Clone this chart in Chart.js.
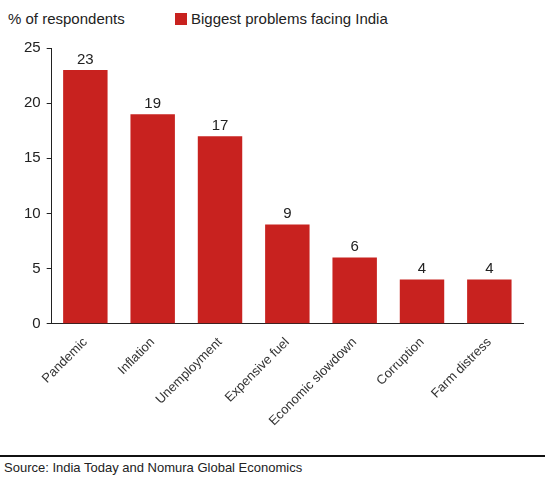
<!DOCTYPE html>
<html>
<head>
<meta charset="utf-8">
<script src="https://cdn.jsdelivr.net/npm/chart.js@4"></script>
<style>
  body { margin: 0; background: #fff; font-family: "Liberation Sans", Arial, sans-serif; }
  #wrap { position: relative; width: 545px; height: 479px; }
  #yTitle { position: absolute; left: 8px; top: 10px; font-size: 15px; color: #222; }
  #legend { position: absolute; left: 175px; top: 10px; font-size: 15px; color: #222; }
  #legend span { display: inline-block; width: 12px; height: 12px; background: #C8221F; margin-right: 4px; vertical-align: -1px; }
  #chartBox { position: absolute; left: 0; top: 30px; width: 545px; height: 402px; }
  #rule { position: absolute; left: 0; top: 455px; width: 545px; height: 2px; background: #111; }
  #source { position: absolute; left: 4px; top: 460px; font-size: 13px; color: #222; }
</style>
</head>
<body>
<div id="wrap">
  <div id="yTitle">% of respondents</div>
  <div id="legend"><span></span>Biggest problems facing India</div>
  <div id="chartBox"><canvas id="chart"></canvas></div>
  <div id="rule"></div>
  <div id="source">Source: India Today and Nomura Global Economics</div>
</div>
<script>
// Chart data
const categories = ["Pandemic", "Inflation", "Unemployment", "Expensive fuel", "Economic slowdown", "Corruption", "Farm distress"];
const shares = [23, 19, 17, 9, 6, 4, 4];
const yTicks = [0, 5, 10, 15, 20, 25];

// Value labels above bars
const barLabels = {
    id: "barLabels",
    afterDatasetsDraw(chart) {
        const ctx = chart.ctx;
        ctx.save();
        ctx.font = "15px 'Liberation Sans', Arial, sans-serif";
        ctx.fillStyle = "#222";
        ctx.textAlign = "center";
        ctx.textBaseline = "bottom";
        chart.getDatasetMeta(0).data.forEach((bar, i) => {
            ctx.fillText(shares[i], bar.x, bar.y - 3);
        });
        ctx.restore();
    },
};

new Chart(document.getElementById("chart"), {
    type: "bar",
    data: {
        labels: categories,
        datasets: [{
            data: shares,
            backgroundColor: "#C8221F",
            categoryPercentage: 1,
            barPercentage: 0.66,
        }],
    },
    options: {
        responsive: true,
        maintainAspectRatio: false,
        animation: false,
        layout: { padding: { top: 18, right: 22, left: 18 } },
        plugins: { legend: { display: false }, tooltip: { enabled: false } },
        scales: {
            y: {
                min: 0,
                max: 25,
                afterBuildTicks: axis => { axis.ticks = yTicks.map(v => ({ value: v })); },
                grid: { drawOnChartArea: false, tickLength: 5, color: "#222" },
                border: { color: "#222" },
                ticks: { color: "#222", font: { size: 15, family: "'Liberation Sans', Arial, sans-serif" }, padding: 6 },
            },
            x: {
                grid: { display: false },
                border: { color: "#222" },
                ticks: {
                    color: "#333",
                    maxRotation: 45,
                    minRotation: 45,
                    font: { size: 13, family: "'Liberation Sans', Arial, sans-serif" },
                },
            },
        },
    },
    plugins: [barLabels],
});
</script>
</body>
</html>
